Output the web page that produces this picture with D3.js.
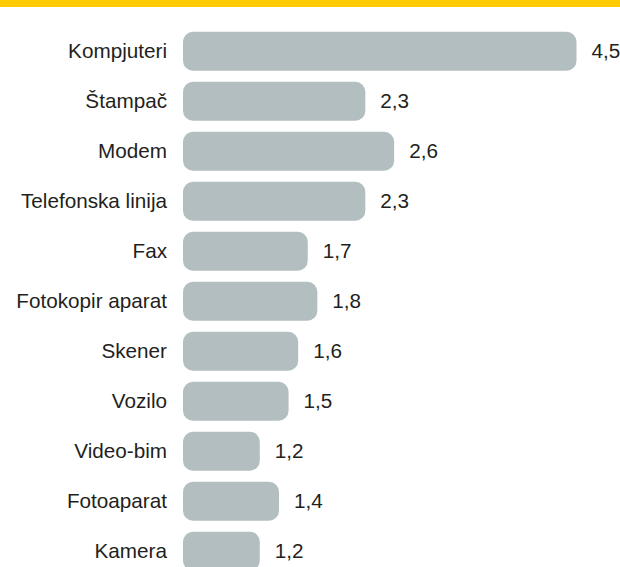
<!DOCTYPE html>
<html>
<head>
<meta charset="utf-8">
<script src="https://cdn.jsdelivr.net/npm/d3@7"></script>
<style>
  html, body { margin: 0; padding: 0; background: #fff; }
  svg { display: block; }
</style>
</head>
<body>
<svg id="chart" width="620" height="567"></svg>
<script>
const categories = ["Kompjuteri", "Štampač", "Modem", "Telefonska linija", "Fax", "Fotokopir aparat", "Skener", "Vozilo", "Video-bim", "Fotoaparat", "Kamera"];
const values = [4.5, 2.3, 2.6, 2.3, 1.7, 1.8, 1.6, 1.5, 1.2, 1.4, 1.2];
const valueLabels = ["4,5", "2,3", "2,6", "2,3", "1,7", "1,8", "1,6", "1,5", "1,2", "1,4", "1,2"];
const baseValue = 0.4;

const svg = d3.select("#chart");
const W = 620, H = 567;

// top yellow band
svg.append("rect").attr("x", 0).attr("y", 0).attr("width", W).attr("height", 7).attr("fill", "#ffcb05");

const x = d3.scaleLinear().domain([baseValue, 4.5]).range([183, 576.5]);
const y = d3.scaleBand().domain(categories).range([26.2, 576.2]).paddingInner(0.22).paddingOuter(0.11);

const data = categories.map((c, i) => ({ c, v: values[i], l: valueLabels[i] }));

const g = svg.append("g");

g.selectAll("rect.bar").data(data).join("rect")
  .attr("class", "bar")
  .attr("x", x(baseValue))
  .attr("y", d => y(d.c))
  .attr("width", d => x(d.v) - x(baseValue))
  .attr("height", y.bandwidth())
  .attr("rx", 10).attr("ry", 10)
  .attr("fill", "#b3bec0");

const font = "'Liberation Sans', Arial, Helvetica, sans-serif";

g.selectAll("text.cat").data(data).join("text")
  .attr("class", "cat")
  .attr("x", 167)
  .attr("y", d => y(d.c) + y.bandwidth() / 2)
  .attr("dy", "0.35em")
  .attr("text-anchor", "end")
  .attr("font-family", font)
  .attr("font-size", "20.7px")
  .attr("fill", "#231f20")
  .text(d => d.c);

g.selectAll("text.val").data(data).join("text")
  .attr("class", "val")
  .attr("x", d => x(d.v) + 15)
  .attr("y", d => y(d.c) + y.bandwidth() / 2)
  .attr("dy", "0.35em")
  .attr("text-anchor", "start")
  .attr("font-family", font)
  .attr("font-size", "20.7px")
  .attr("fill", "#231f20")
  .text(d => d.l);
</script>
</body>
</html>
